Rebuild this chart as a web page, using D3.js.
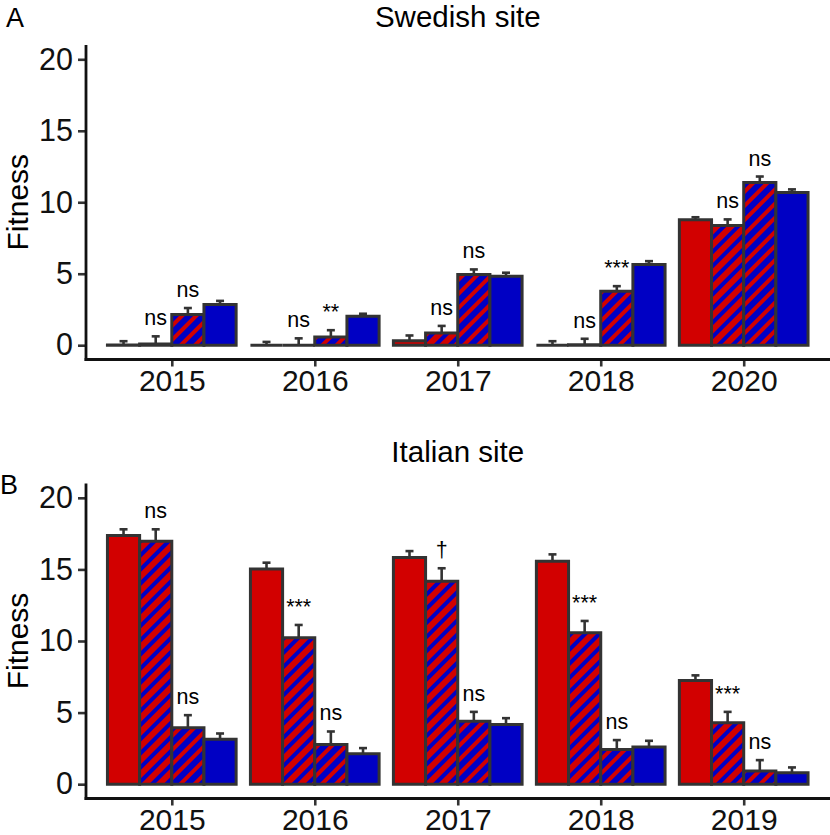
<!DOCTYPE html>
<html>
<head>
<meta charset="utf-8">
<script src="https://cdn.jsdelivr.net/npm/d3@7"></script>
<style>
  html, body { margin: 0; padding: 0; background: #fff; }
  svg { display: block; }
  text { font-family: "Liberation Sans", Arial, Helvetica, sans-serif; }
</style>
</head>
<body>
<svg id="chart" width="830" height="835"></svg>
<script>
// ---------- data ----------
const treatments = ["Red", "Red hatched", "Blue hatched", "Blue"];

const yearsSwedish = ["2015", "2016", "2017", "2018", "2020"];
const swedishRed        = [0.02, 0.00, 0.31, 0.00, 8.77];
const swedishRedSE      = [0.26, 0.23, 0.37, 0.28, 0.18];
const swedishRedHatch   = [0.08, 0.00, 0.85, 0.03, 8.38];
const swedishRedHatchSE = [0.54, 0.48, 0.50, 0.42, 0.42];
const swedishBlueHatch  = [2.15, 0.58, 4.95, 3.78, 11.38];
const swedishBlueHatchSE= [0.45, 0.47, 0.35, 0.35, 0.42];
const swedishBlue       = [2.85, 2.03, 4.82, 5.64, 10.68];
const swedishBlueSE     = [0.25, 0.17, 0.25, 0.24, 0.22];
const swedishLabel2     = ["ns", "ns", "ns", "ns", "ns"];
const swedishLabel3     = ["ns", "**", "ns", "***", "ns"];

const yearsItalian = ["2015", "2016", "2017", "2018", "2019"];
const italianRed        = [17.36, 15.03, 15.84, 15.57, 7.24];
const italianRedSE      = [0.44, 0.44, 0.44, 0.48, 0.36];
const italianRedHatch   = [16.96, 10.22, 14.17, 10.57, 4.29];
const italianRedHatchSE = [0.84, 0.90, 0.91, 0.83, 0.76];
const italianBlueHatch  = [3.94, 2.78, 4.40, 2.43, 0.92];
const italianBlueHatchSE= [0.88, 0.90, 0.65, 0.65, 0.76];
const italianBlue       = [3.13, 2.13, 4.17, 2.59, 0.80];
const italianBlueSE     = [0.41, 0.39, 0.44, 0.44, 0.37];
const italianLabel2     = ["ns", "***", "\u2020", "***", "***"];
const italianLabel3     = ["ns", "ns", "ns", "ns", "ns"];

const yTicks = [0, 5, 10, 15, 20];

// ---------- style ----------
const RED = "#d20000", BLUE = "#0000c4", EDGE = "#333333";

const svg = d3.select("#chart");
const defs = svg.append("defs");
function stripe(id, bg, fg) {
  const p = defs.append("pattern").attr("id", id)
    .attr("patternUnits", "userSpaceOnUse")
    .attr("width", 10).attr("height", 10)
    .attr("patternTransform", "rotate(45)");
  p.append("rect").attr("width", 10).attr("height", 10).attr("fill", bg);
  p.append("rect").attr("x", 0).attr("width", 4).attr("height", 10).attr("fill", fg);
}
stripe("hatchRed", RED, BLUE);
stripe("hatchBlue", BLUE, RED);
const fills = [RED, "url(#hatchRed)", "url(#hatchBlue)", BLUE];

const left = 86, right = 829.5;

function panel(cfg) {
  const g = svg.append("g");
  const x = d3.scalePoint().domain(cfg.years).range([left, right]).padding(0.6);
  const step = x.step();
  const inner = d3.scaleBand().domain(treatments).range([-0.45 * step, 0.45 * step]).padding(0);
  const y = d3.scaleLinear().domain([-1, 21]).range([cfg.bottom, cfg.top]);
  const bw = inner.bandwidth();

  const rows = [];
  cfg.years.forEach((yr, i) => {
    treatments.forEach((t, j) => {
      rows.push({ yr, t, j, v: cfg.means[j][i], se: cfg.ses[j][i],
        label: j === 1 ? cfg.lab2[i] : (j === 2 ? cfg.lab3[i] : null) });
    });
  });

  // error bars (upper only)
  const eb = g.append("g").attr("stroke", EDGE).attr("stroke-width", 2.6).attr("fill", "none");
  rows.forEach(d => {
    const cx = x(d.yr) + inner(d.t) + bw / 2;
    eb.append("line").attr("x1", cx).attr("x2", cx).attr("y1", y(d.v)).attr("y2", y(d.v + d.se));
    eb.append("line").attr("x1", cx - 4).attr("x2", cx + 4).attr("y1", y(d.v + d.se)).attr("y2", y(d.v + d.se));
  });

  // bars
  g.append("g").selectAll("path").data(rows).join("path")
    .attr("d", d => {
      const x0 = x(d.yr) + inner(d.t), x1 = x0 + bw;
      const p = d3.path();
      p.moveTo(x0, y(0)); p.lineTo(x0, y(d.v)); p.lineTo(x1, y(d.v)); p.lineTo(x1, y(0)); p.closePath();
      return p.toString();
    })
    .attr("fill", d => fills[d.j])
    .attr("stroke", EDGE).attr("stroke-width", 3).attr("stroke-linejoin", "miter");

  // significance labels
  g.append("g").selectAll("text").data(rows.filter(d => d.label)).join("text")
    .attr("x", d => x(d.yr) + inner(d.t) + bw / 2)
    .attr("y", d => y(d.v + d.se) - 11)
    .attr("text-anchor", "middle").attr("font-size", 21.5).attr("fill", "#000")
    .text(d => d.label);

  // axes
  const ya = g.append("g").attr("transform", `translate(${left},0)`)
    .call(d3.axisLeft(y).tickValues(yTicks).tickSize(8).tickSizeOuter(0).tickPadding(5));
  ya.select(".domain").remove();
  ya.selectAll(".tick line").attr("stroke", EDGE).attr("stroke-width", 2.6);
  ya.selectAll(".tick text").attr("font-size", 30.5).attr("fill", "#111")
    .attr("font-family", "'Liberation Sans', Arial, sans-serif");

  const xa = g.append("g").attr("transform", `translate(0,${cfg.bottom})`)
    .call(d3.axisBottom(x).tickSize(7).tickSizeOuter(0).tickPadding(3));
  xa.select(".domain").remove();
  xa.selectAll(".tick line").attr("stroke", EDGE).attr("stroke-width", 2.6);
  xa.selectAll(".tick text").attr("font-size", 30).attr("fill", "#111")
    .attr("font-family", "'Liberation Sans', Arial, sans-serif");

  g.append("line").attr("x1", left).attr("x2", left).attr("y1", cfg.top).attr("y2", cfg.bottom + 1.4)
    .attr("stroke", "#111").attr("stroke-width", 2.8);
  g.append("line").attr("x1", left - 1.4).attr("x2", 830).attr("y1", cfg.bottom).attr("y2", cfg.bottom)
    .attr("stroke", "#111").attr("stroke-width", 2.8);

  // titles
  g.append("text").attr("x", (left + right) / 2).attr("y", cfg.titleY)
    .attr("text-anchor", "middle").attr("font-size", 29.5).attr("fill", "#000").text(cfg.title);
  g.append("text").attr("transform", `translate(27.5,${(cfg.top + cfg.bottom) / 2}) rotate(-90)`)
    .attr("text-anchor", "middle").attr("font-size", 30).attr("fill", "#000").text("Fitness");
  g.append("text").attr("x", cfg.tagX).attr("y", cfg.tagY)
    .attr("font-size", 27).attr("fill", "#000").text(cfg.tag);
}

panel({
  years: yearsSwedish, top: 45, bottom: 359.5, title: "Swedish site", titleY: 26.5,
  tag: "A", tagX: 6, tagY: 27,
  means: [swedishRed, swedishRedHatch, swedishBlueHatch, swedishBlue],
  ses: [swedishRedSE, swedishRedHatchSE, swedishBlueHatchSE, swedishBlueSE],
  lab2: swedishLabel2, lab3: swedishLabel3
});
panel({
  years: yearsItalian, top: 483.5, bottom: 798.5, title: "Italian site", titleY: 462,
  tag: "B", tagX: 0, tagY: 494,
  means: [italianRed, italianRedHatch, italianBlueHatch, italianBlue],
  ses: [italianRedSE, italianRedHatchSE, italianBlueHatchSE, italianBlueSE],
  lab2: italianLabel2, lab3: italianLabel3
});
</script>
</body>
</html>
